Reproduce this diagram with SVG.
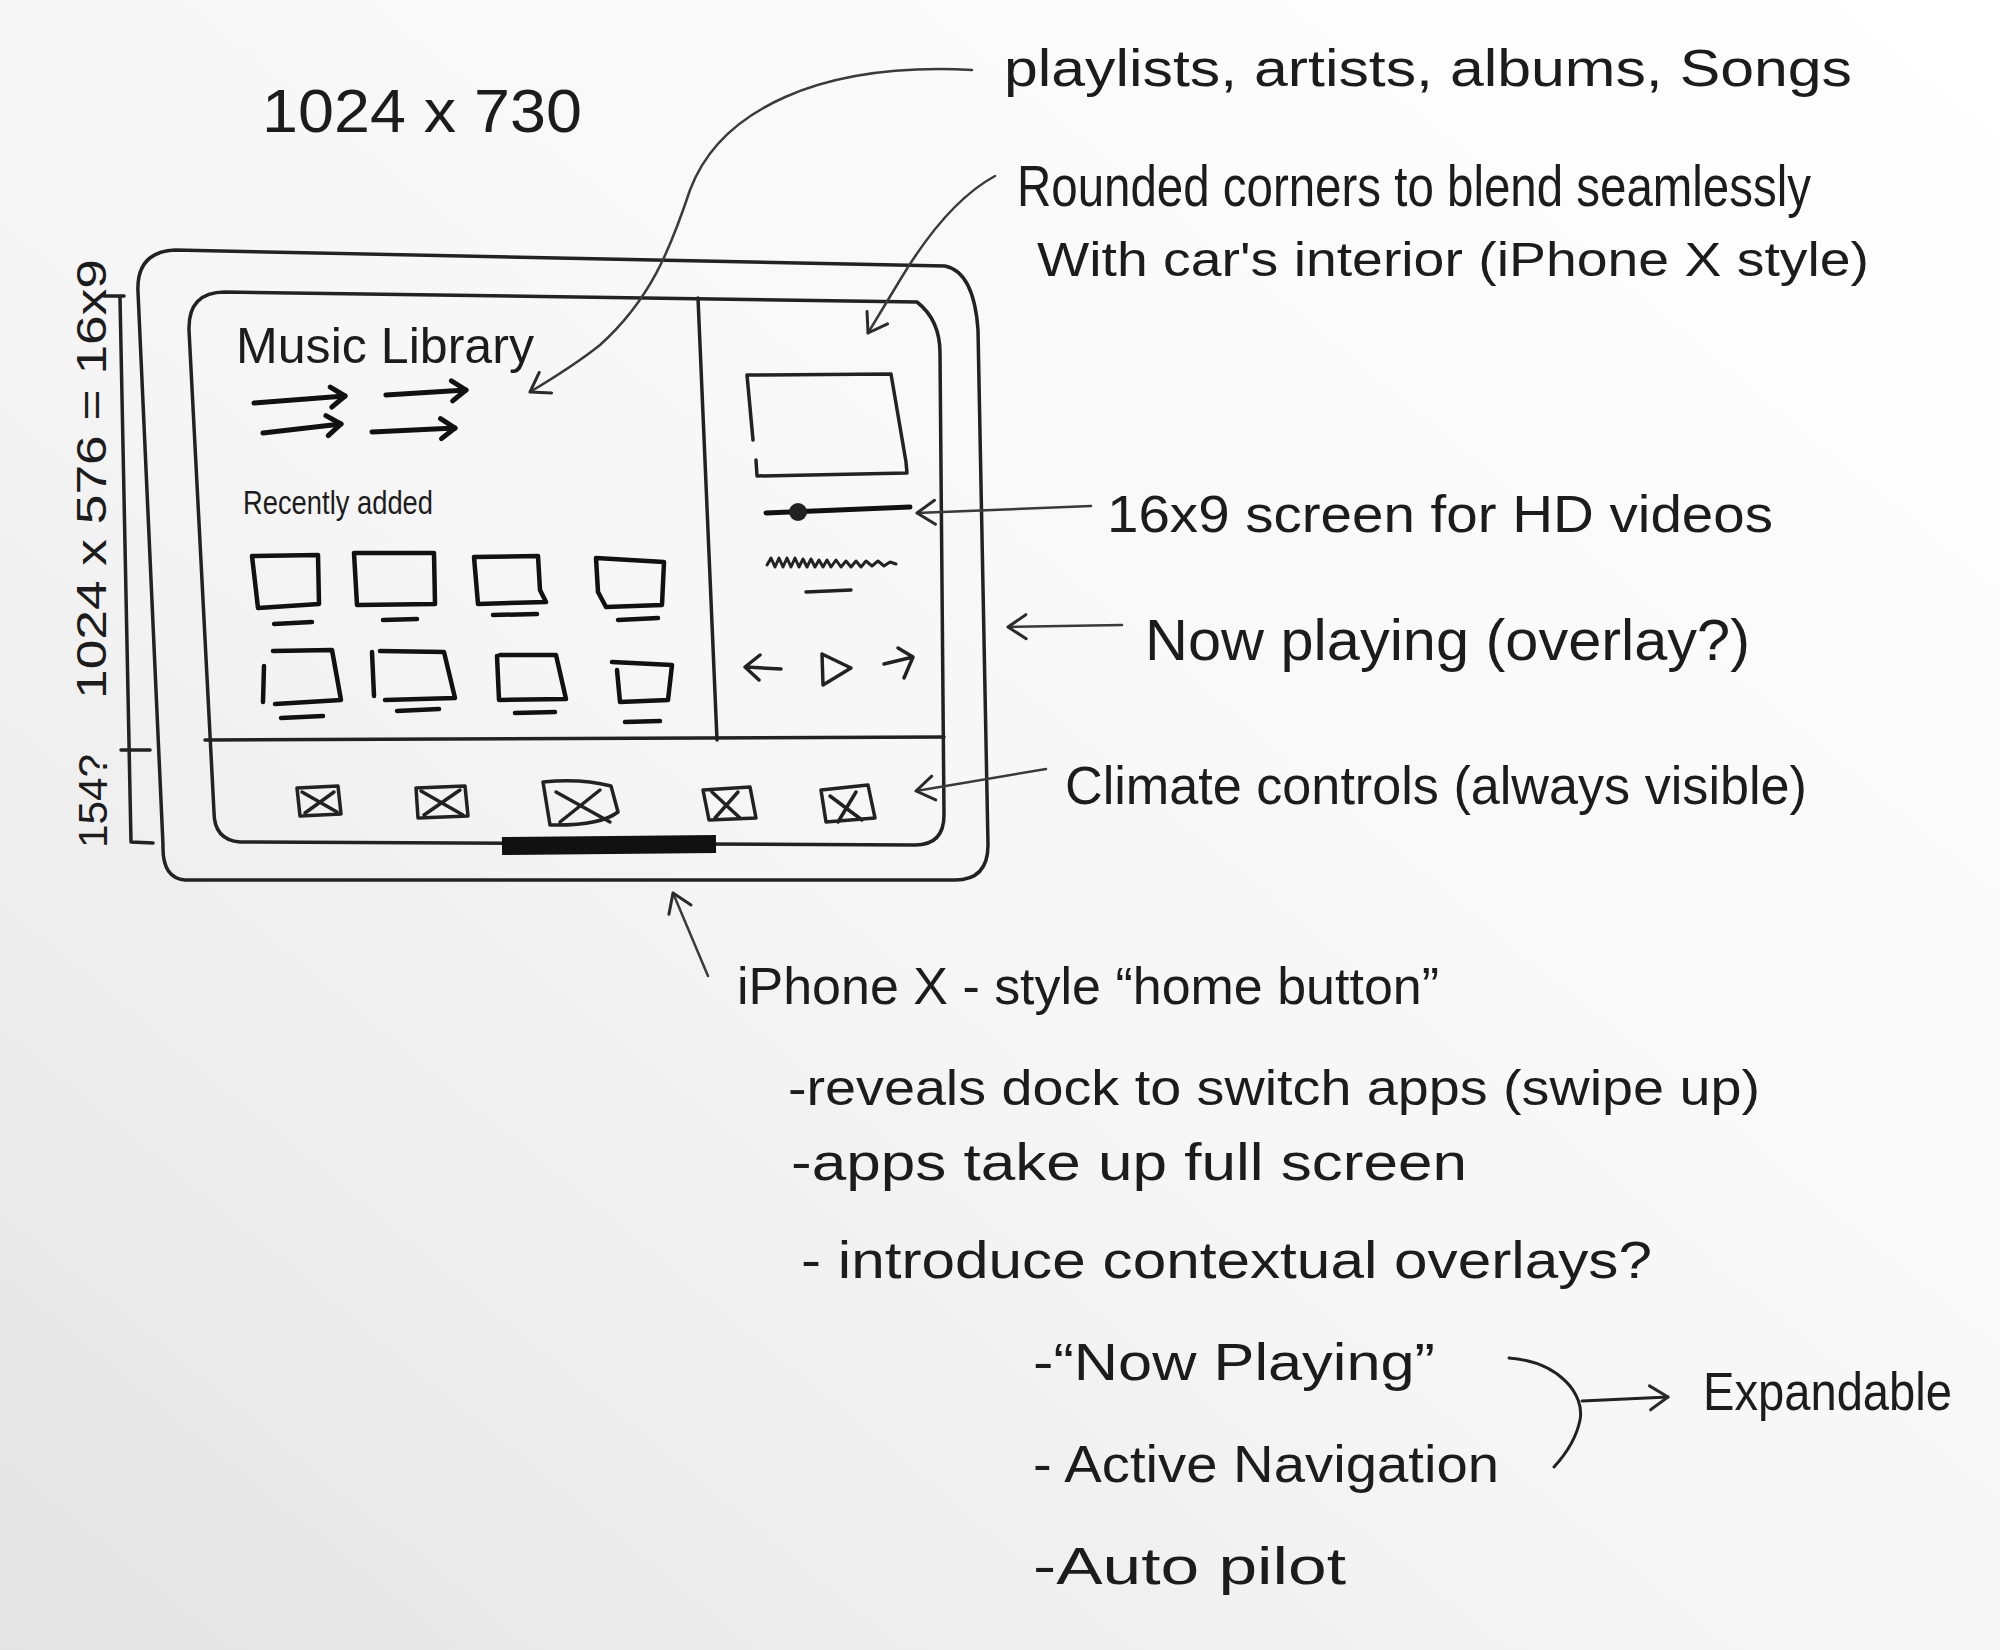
<svg xmlns="http://www.w3.org/2000/svg" width="2000" height="1650" viewBox="0 0 2000 1650">
<defs>
<linearGradient id="bg" x1="0" y1="1" x2="1" y2="0">
<stop offset="0" stop-color="#e4e4e4"/>
<stop offset="0.45" stop-color="#f6f6f6"/>
<stop offset="1" stop-color="#ffffff"/>
</linearGradient>
<marker id="ah" markerUnits="userSpaceOnUse" markerWidth="40" markerHeight="40" viewBox="-24 -20 40 40" refX="0" refY="0" orient="auto" overflow="visible">
<path d="M -18 -12 L 0 0 L -18 12" fill="none" stroke="#2a2a2a" stroke-width="3" stroke-linecap="round" stroke-linejoin="round"/>
</marker>
<marker id="ahb" markerUnits="userSpaceOnUse" markerWidth="40" markerHeight="40" viewBox="-24 -20 40 40" refX="0" refY="0" orient="auto" overflow="visible">
<path d="M -14 -10 L 0 0 L -14 10" fill="none" stroke="#111" stroke-width="5" stroke-linecap="round" stroke-linejoin="round"/>
</marker>
</defs>
<style>
.t{font-family:"Liberation Sans","DejaVu Sans",sans-serif;fill:#1c1c1c;}
.ln{fill:none;stroke:#222;stroke-width:3.5;stroke-linecap:round;stroke-linejoin:round;}
.thk{fill:none;stroke:#111;stroke-width:5;stroke-linecap:round;stroke-linejoin:round;}
.con{fill:none;stroke:#3a3a3a;stroke-width:2.5;stroke-linecap:round;marker-end:url(#ah);}
</style>
<rect x="0" y="0" width="2000" height="1650" fill="url(#bg)"/>

<g id="device">
<path class="ln" d="M 175 250 L 945 266 Q 974 272 978 330 L 988 845 Q 988 880 955 880 L 185 880 Q 162 878 163 845 L 138 292 Q 136 252 175 250 Z"/>
<path class="ln" d="M 225 292 L 917 302 Q 940 320 940 353 L 944 815 Q 944 845 915 845 L 240 842 Q 214 840 214 812 L 189 330 Q 188 292 225 292 Z"/>
<path class="ln" d="M 698 298 L 717 740"/>
<path class="ln" d="M 205 740 L 944 737"/>
<path d="M 502 846 L 716 844" fill="none" stroke="#111" stroke-width="18"/>
</g>

<g id="music-library">
<text class="t" x="236" y="363" font-size="50" textLength="298" lengthAdjust="spacingAndGlyphs">Music Library</text>
<path class="thk" d="M 254 403 L 345 396" marker-end="url(#ahb)"/>
<path class="thk" d="M 386 395 L 466 390" marker-end="url(#ahb)"/>
<path class="thk" d="M 263 433 L 341 424" marker-end="url(#ahb)"/>
<path class="thk" d="M 372 432 L 455 428" marker-end="url(#ahb)"/>
</g>

<g id="recently-added">
<text class="t" x="243" y="514" font-size="34" textLength="190" lengthAdjust="spacingAndGlyphs">Recently added</text>
<g class="thk" style="stroke-width:4.5">
<path d="M 252 556 L 318 555 L 319 604 L 258 608 L 252 556"/><path d="M 274 624 L 312 622"/>
<path d="M 354 553 L 434 553 L 435 604 L 357 605 L 354 553"/><path d="M 383 620 L 417 619"/>
<path d="M 474 557 L 538 556 L 540 590 L 546 602 L 478 604 L 474 557"/><path d="M 493 615 L 537 614"/>
<path d="M 596 558 L 664 562 L 662 605 L 606 607 L 598 592 L 596 558"/><path d="M 618 620 L 658 618"/>
<path d="M 264 666 L 263 702 M 273 651 L 332 650 L 341 700 L 275 704"/><path d="M 281 718 L 323 716"/>
<path d="M 372 652 L 374 696 M 380 651 L 444 652 L 455 698 L 385 700"/><path d="M 397 711 L 439 709"/>
<path d="M 497 656 L 499 700 L 566 699 L 556 655 L 500 655"/><path d="M 515 713 L 555 712"/>
<path d="M 612 662 L 672 665 L 668 700 L 620 702 L 617 670"/><path d="M 625 722 L 660 721"/>
</g>
</g>

<g id="now-playing-panel">
<path class="ln" d="M 753 440 L 747 375 L 891 374 L 906 462 L 907 473 L 757 476 L 756 460"/>
<path class="thk" d="M 766 513 L 910 507"/>
<circle cx="798" cy="512" r="9" fill="#222"/>
<path class="ln" style="stroke-width:3" d="M 767 565 l 4 -7 l 4 9 l 4 -9 l 4 9 l 4 -9 l 4 9 l 4 -9 l 4 9 l 4 -8 l 4 8 l 4 -8 l 4 8 l 4 -7 l 4 7 l 4 -7 l 4 7 l 5 -7 l 5 7 l 5 -6 l 5 6 l 5 -6 l 5 6 l 5 -6 l 6 5 l 6 -5 l 6 5 l 6 -4 l 6 2"/>
<path class="ln" d="M 806 592 L 851 590"/>
<path class="ln" d="M 781 669 L 746 667 M 760 655 L 745 667 L 759 680"/>
<path class="ln" d="M 822 654 L 823 685 L 851 668 L 822 654"/>
<path class="ln" d="M 884 664 L 913 657 M 898 648 L 913 657 L 904 678"/>
</g>

<g id="climate-bar">
<g class="ln">
<path d="M 297 788 L 338 786 L 341 814 L 300 816 Z M 302 792 L 337 812 M 334 792 L 305 813"/>
<path d="M 416 788 L 465 786 L 468 816 L 418 818 Z M 421 791 L 463 815 M 460 790 L 424 815"/>
<path d="M 543 782 Q 580 778 611 786 L 618 812 Q 600 826 550 825 Z M 556 792 L 610 822 M 600 790 L 560 822"/>
<path d="M 703 790 L 750 787 L 756 818 L 709 820 Z M 712 792 L 740 818 M 738 792 L 715 818"/>
<path d="M 821 790 L 868 785 L 875 818 L 826 822 Z M 830 796 L 862 820 M 856 792 L 838 822"/>
</g>
</g>

<g id="dimensions">
<path class="ln" d="M 104 296 L 124 296 M 120 298 L 131 842 M 121 750 L 150 750 M 131 842 L 153 843"/>
<text class="t" font-size="42" transform="translate(106,699) rotate(-90)" textLength="440" lengthAdjust="spacingAndGlyphs">1024 x 576 = 16x9</text>
<text class="t" font-size="40" transform="translate(107,848) rotate(-90)" textLength="94" lengthAdjust="spacingAndGlyphs">154?</text>
</g>

<g id="connectors">
<path class="con" d="M 972 70 C 820 62, 720 110, 690 190 C 670 250, 650 300, 600 345 C 575 365, 550 380, 530 392"/>
<path class="con" d="M 995 176 C 960 195, 930 230, 900 280 L 868 333"/>
<path class="con" d="M 1091 506 L 917 513"/>
<path class="con" d="M 1122 625 L 1008 627"/>
<path class="con" d="M 1046 769 L 916 791"/>
<path class="con" d="M 708 976 L 673 893"/>
<path class="ln" style="stroke-width:3" d="M 1509 1358 C 1560 1362, 1585 1395, 1580 1420 C 1576 1440, 1565 1455, 1554 1467"/>
<path class="con" style="stroke:#222;stroke-width:3" d="M 1582 1401 L 1668 1397"/>
</g>

<g id="annotations">
<text class="t" x="262" y="132" font-size="62" textLength="320" lengthAdjust="spacingAndGlyphs">1024 x 730</text>
<text class="t" x="1004" y="86" font-size="52" textLength="848" lengthAdjust="spacingAndGlyphs">playlists, artists, albums, Songs</text>
<text class="t" x="1017" y="206" font-size="58" textLength="794" lengthAdjust="spacingAndGlyphs">Rounded corners to blend seamlessly</text>
<text class="t" x="1037" y="276" font-size="48" textLength="832" lengthAdjust="spacingAndGlyphs">With car's interior (iPhone X style)</text>
<text class="t" x="1107" y="532" font-size="52" textLength="666" lengthAdjust="spacingAndGlyphs">16x9 screen for HD videos</text>
<text class="t" x="1145" y="660" font-size="58" textLength="605" lengthAdjust="spacingAndGlyphs">Now playing (overlay?)</text>
<text class="t" x="1065" y="804" font-size="54" textLength="742" lengthAdjust="spacingAndGlyphs">Climate controls (always visible)</text>
<text class="t" x="737" y="1004" font-size="52" textLength="702" lengthAdjust="spacingAndGlyphs">iPhone X - style “home button”</text>
<text class="t" x="788" y="1105" font-size="50" textLength="972" lengthAdjust="spacingAndGlyphs">-reveals dock to switch apps (swipe up)</text>
<text class="t" x="791" y="1180" font-size="52" textLength="676" lengthAdjust="spacingAndGlyphs">-apps take up full screen</text>
<text class="t" x="801" y="1278" font-size="52" textLength="851" lengthAdjust="spacingAndGlyphs">- introduce contextual overlays?</text>
<text class="t" x="1033" y="1380" font-size="52" textLength="402" lengthAdjust="spacingAndGlyphs">-“Now Playing”</text>
<text class="t" x="1033" y="1482" font-size="52" textLength="466" lengthAdjust="spacingAndGlyphs">- Active Navigation</text>
<text class="t" x="1033" y="1584" font-size="52" textLength="313" lengthAdjust="spacingAndGlyphs">-Auto pilot</text>
<text class="t" x="1703" y="1410" font-size="54" textLength="249" lengthAdjust="spacingAndGlyphs">Expandable</text>
</g>
</svg>
